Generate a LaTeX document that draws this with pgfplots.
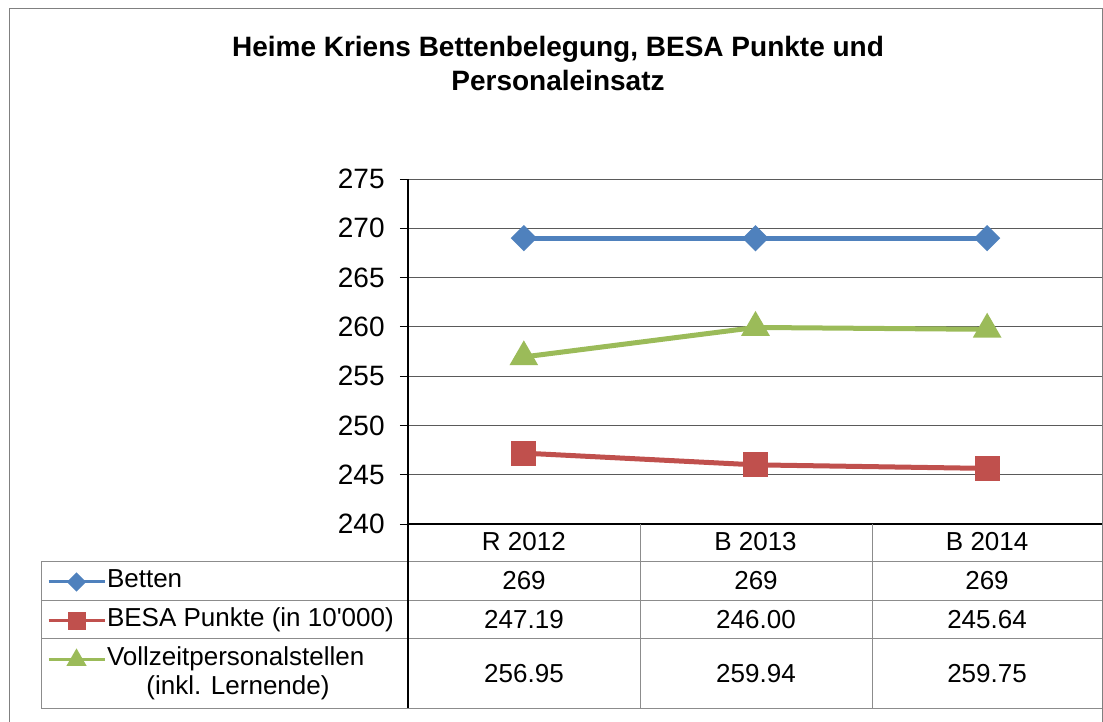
\documentclass[border=0pt]{standalone}
\usepackage{fontspec}
\setmainfont{Liberation Sans}
\usepackage{pgfplots}
\pgfplotsset{compat=1.18}
\definecolor{xlblue}{HTML}{4F81BD}
\definecolor{xlred}{HTML}{C0504D}
\definecolor{xlgreen}{HTML}{9BBB59}
\definecolor{gridgray}{HTML}{5A5A5A}
\definecolor{tablegray}{HTML}{8C8C8C}

\begin{document}
\begin{tikzpicture}
\useasboundingbox (0,0) rectangle (551.5pt,-361pt);
\begin{axis}[
  at={(204pt,-262pt)}, anchor=south west,
  scale only axis, width=347.5pt, height=172.5pt,
  xmin=-0.5, xmax=2.5, ymin=240, ymax=275,
  xtick={0,1,2}, xticklabels={R 2012,B 2013,B 2014},
  ytick={240,245,...,275},
  axis lines*=left,
  axis line style={black, line width=0.6pt},
  ymajorgrids, grid style={gridgray, line width=0.5pt},
  tick align=outside,
  major tick length=4pt,
  major x tick style={draw=none},
  ytick style={black, line width=0.5pt},
  tick label style={font=\fontsize{14}{16}\selectfont},
  /pgf/number format/assume math mode=true,
  yticklabel style={inner sep=0pt, anchor=east, xshift=-7.5pt},
  xticklabel style={font=\fontsize{13}{15}\selectfont, anchor=base, inner sep=0pt, yshift=-9pt},
  clip=false,
  legend style={at={(-0.5194,-0.1275)}, anchor=north west, draw=none, fill=none,
    inner sep=0pt, outer sep=0pt, row sep=6.5pt, column sep=0.5pt,
    font=\fontsize{13}{15}\selectfont,
    nodes={inner sep=0pt, text height=10pt, text depth=3pt}},
  legend cell align=left,
  legend image code/.code={\draw[mark repeat=2, mark phase=2, #1]
    plot coordinates {(0pt,-0.5pt) (14pt,-0.5pt) (28pt,-0.5pt)};},
]
\addplot[xlblue, line width=2.5pt, mark=square*, mark size=3.4pt,
  mark options={solid, rotate=45},
  legend image post style={line width=1.5pt, mark size=2.65pt}]
  coordinates {(0,269) (1,269) (2,269)};
\addlegendentry{Betten}
\addplot[xlred, line width=2.5pt, mark=square*, mark size=5pt,
  mark options={solid},
  legend image post style={line width=1.5pt, mark size=3.75pt}]
  coordinates {(0,247.19) (1,246.00) (2,245.64)};
\addlegendentry{BESA Punkte (in 10\textquotesingle000)}
\addplot[xlgreen, line width=2.5pt, mark=triangle*, mark size=5.8pt,
  mark options={solid},
  legend image post style={line width=1.5pt, mark size=4.3pt}]
  coordinates {(0,256.95) (1,259.94) (2,259.75)};
\addlegendentry{Vollzeitpersonalstellen}
\end{axis}
\begin{scope}[x=0.5pt, y=-0.5pt]
  % chart border
  \draw[black!50, line width=0.5pt] (9,722) -- (9,9) -- (1102,9) -- (1102,722);
  % title
  \node[anchor=base, font=\fontsize{14}{17}\selectfont\bfseries] at (558,57)
    {Heime Kriens Bettenbelegung, BESA Punkte und};
  \node[anchor=base, font=\fontsize{14}{17}\selectfont\bfseries] at (558,91)
    {Personaleinsatz};
  % data table grid
  \foreach \yy in {561,600,638,708}
    \draw[tablegray, line width=0.5pt] (41,\yy) -- (1102,\yy);
  \draw[tablegray, line width=0.5pt] (41,561) -- (41,708);
  \draw[black, line width=0.6pt] (408,524) -- (408,708);
  \draw[tablegray, line width=0.5pt] (640,524) -- (640,708);
  \draw[tablegray, line width=0.5pt] (872,524) -- (872,708);
  % second line of legend entry
  \node[anchor=base, inner sep=0pt, font=\fontsize{13}{15}\selectfont] at (238,694)
    {(inkl. Lernende)};
  % table values
  \begin{scope}[every node/.style={anchor=base, inner sep=0pt, font=\fontsize{13}{15}\selectfont}]
    \node at (524,589) {269};
    \node at (756,589) {269};
    \node at (987,589) {269};
    \node at (524,628) {247.19};
    \node at (756,628) {246.00};
    \node at (987,628) {245.64};
    \node at (524,682) {256.95};
    \node at (756,682) {259.94};
    \node at (987,682) {259.75};
  \end{scope}
\end{scope}
\end{tikzpicture}
\end{document}
